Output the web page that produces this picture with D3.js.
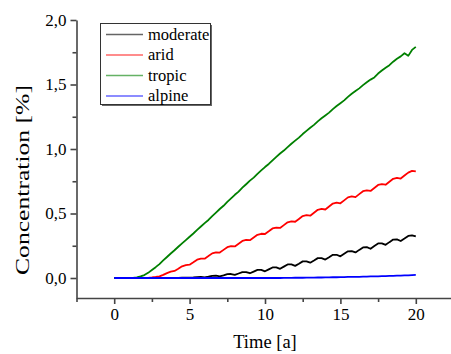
<!DOCTYPE html>
<html>
<head>
<meta charset="utf-8">
<script src="https://cdn.jsdelivr.net/npm/d3@7"></script>
<style>
  body { margin: 0; background: #fff; }
</style>
</head>
<body>
<svg id="chart" width="451" height="354"></svg>
<script>
let time = [0, 0.25, 0.5, 0.75, 1, 1.25, 1.5, 1.75, 2, 2.25, 2.5, 2.75, 3, 3.25, 3.5, 3.75,
  4, 4.25, 4.5, 4.75, 5, 5.25, 5.5, 5.75, 6, 6.25, 6.5, 6.75, 7, 7.25, 7.5, 7.75,
  8, 8.25, 8.5, 8.75, 9, 9.25, 9.5, 9.75, 10, 10.25, 10.5, 10.75, 11, 11.25, 11.5, 11.75,
  12, 12.25, 12.5, 12.75, 13, 13.25, 13.5, 13.75, 14, 14.25, 14.5, 14.75, 15, 15.25, 15.5, 15.75,
  16, 16.25, 16.5, 16.75, 17, 17.25, 17.5, 17.75, 18, 18.25, 18.5, 18.75, 19, 19.25, 19.5, 19.75, 20]

let moderate = [0, 0, 0, 0, 0, 0, 0, 0, 0, 0, 0, 0, 0, 0, 0, 0,
  0, 0.001, 0.002, 0.002, 0.002, 0.004, 0.007, 0.008, 0.005, 0.010, 0.017, 0.018, 0.013, 0.021, 0.030, 0.031,
  0.024, 0.035, 0.046, 0.046, 0.037, 0.050, 0.063, 0.063, 0.052, 0.067, 0.082, 0.082, 0.071, 0.088, 0.105, 0.105,
  0.094, 0.111, 0.129, 0.129, 0.119, 0.136, 0.154, 0.154, 0.143, 0.161, 0.180, 0.180, 0.168, 0.188, 0.207, 0.209,
  0.198, 0.218, 0.237, 0.239, 0.227, 0.248, 0.268, 0.269, 0.257, 0.278, 0.298, 0.299, 0.287, 0.306, 0.326, 0.331, 0.322]

let arid = [0, 0, 0, 0, 0, 0, 0, 0, 0, 0.001, 0.004, 0.008, 0.013, 0.024, 0.038, 0.049,
  0.055, 0.072, 0.091, 0.100, 0.103, 0.122, 0.142, 0.150, 0.150, 0.170, 0.191, 0.199, 0.197, 0.218, 0.239, 0.247,
  0.245, 0.266, 0.287, 0.295, 0.293, 0.314, 0.335, 0.343, 0.341, 0.362, 0.384, 0.391, 0.388, 0.410, 0.432, 0.439,
  0.436, 0.458, 0.480, 0.487, 0.483, 0.506, 0.529, 0.536, 0.531, 0.554, 0.577, 0.584, 0.579, 0.602, 0.625, 0.632,
  0.627, 0.650, 0.673, 0.680, 0.675, 0.698, 0.721, 0.728, 0.723, 0.746, 0.769, 0.776, 0.771, 0.794, 0.817, 0.830, 0.826]

let tropic = [0, 0, 0, 0, 0, 0.001, 0.005, 0.012, 0.023, 0.040, 0.062, 0.084, 0.108, 0.136, 0.163, 0.190,
  0.215, 0.242, 0.268, 0.294, 0.320, 0.345, 0.373, 0.399, 0.425, 0.450, 0.480, 0.507, 0.535, 0.560, 0.590, 0.617,
  0.645, 0.670, 0.700, 0.727, 0.755, 0.778, 0.807, 0.834, 0.860, 0.884, 0.912, 0.939, 0.965, 0.988, 1.015, 1.041,
  1.065, 1.088, 1.116, 1.141, 1.165, 1.187, 1.214, 1.238, 1.260, 1.282, 1.309, 1.333, 1.355, 1.377, 1.404, 1.428,
  1.450, 1.470, 1.495, 1.518, 1.538, 1.555, 1.585, 1.608, 1.630, 1.650, 1.677, 1.700, 1.718, 1.742, 1.722, 1.768, 1.792]

let alpine = [0, 0, 0, 0, 0, 0, 0, 0, 0, 0, 0, 0, 0, 0, 0, 0,
  0, 0, 0, 0, 0, 0, 0, 0, 0, 0, 0, 0, 0, 0, 0, 0,
  0, 0, 0, 0, 0, 0, 0, 0, 0, 0, 0, 0, 0, 0.001, 0.001, 0.001,
  0.002, 0.002, 0.002, 0.003, 0.003, 0.003, 0.004, 0.004, 0.005, 0.005, 0.006, 0.006, 0.007, 0.007, 0.008, 0.008,
  0.009, 0.009, 0.010, 0.011, 0.012, 0.012, 0.013, 0.014, 0.015, 0.016, 0.017, 0.018, 0.019, 0.020, 0.021, 0.023, 0.024]

let seriesNames = ['moderate', 'arid', 'tropic', 'alpine']
let seriesColors = ['#000000', '#ff0000', '#008000', '#0000ff']

let xMajor = [0, 5, 10, 15, 20]
let xMinor = [-2.5, 2.5, 7.5, 12.5, 17.5, 22.5]
let yMajor = [0, 0.5, 1.0, 1.5, 2.0]
let yMinor = [0.25, 0.75, 1.25, 1.75]

let serif = "'Liberation Serif', 'Times New Roman', serif"

let svg = d3.select('#chart')

let x = d3.scaleLinear().domain([-2.5, 22.5]).range([76.5, 453.5])
let y = d3.scaleLinear().domain([-0.155, 2.0]).range([298, 20])

let commaFmt = d => d3.format('.1f')(d).replace('.', ',')

// minor ticks
svg.append('g')
  .attr('transform', 'translate(0,298)')
  .call(d3.axisBottom(x).tickValues(xMinor).tickSize(4).tickFormat('').tickSizeOuter(0))
  .call(g => g.select('.domain').remove())
svg.append('g')
  .attr('transform', 'translate(76.5,0)')
  .call(d3.axisLeft(y).tickValues(yMinor).tickSize(4).tickFormat('').tickSizeOuter(0))
  .call(g => g.select('.domain').remove())

svg.append('g')
  .attr('transform', 'translate(0,298)')
  .call(d3.axisBottom(x).tickValues(xMajor).tickSize(6).tickPadding(4).tickSizeOuter(0))

svg.append('g')
  .attr('transform', 'translate(76.5,0)')
  .call(d3.axisLeft(y).tickValues(yMajor).tickFormat(commaFmt).tickSize(6).tickPadding(4).tickSizeOuter(0))

svg.selectAll('.tick text')
  .style('font-family', serif)
  .attr('font-size', 17)
  .attr('fill', '#000')
svg.selectAll('.domain, .tick line')
  .attr('stroke', '#444')
  .attr('stroke-width', 1.6)

// lines
let series = [moderate, arid, tropic, alpine]
let line = d3.line()
  .x((d, i) => x(time[i]))
  .y(d => y(d))

series.forEach((values, k) => {
  svg.append('path')
    .datum(values)
    .attr('fill', 'none')
    .attr('stroke', seriesColors[k])
    .attr('stroke-width', 1.8)
    .attr('stroke-linejoin', 'round')
    .attr('d', line)
})

// legend
let legend = svg.append('g')
legend.append('rect')
  .attr('x', 102).attr('y', 25).attr('width', 110).attr('height', 81)
  .attr('fill', '#666')
legend.append('rect')
  .attr('x', 100.5).attr('y', 23.5).attr('width', 110).attr('height', 81)
  .attr('fill', '#fff').attr('stroke', '#333').attr('stroke-width', 1)

seriesNames.forEach((name, k) => {
  let cy = 34.5 + k * 20.5
  legend.append('line')
    .attr('x1', 106).attr('x2', 143).attr('y1', cy).attr('y2', cy)
    .attr('stroke', seriesColors[k]).attr('stroke-width', 1.5).attr('opacity', 0.6)
  legend.append('text')
    .attr('x', 148).attr('y', cy + 5)
    .attr('font-size', 16.5)
    .style('font-family', serif)
    .text(name)
})

// axis titles
svg.append('text')
  .attr('x', x(10)).attr('y', 348)
  .attr('text-anchor', 'middle')
  .attr('font-size', 18.5)
  .style('font-family', serif)
  .text('Time [a]')

svg.append('text')
  .attr('transform', 'translate(29,180) rotate(-90)')
  .attr('text-anchor', 'middle')
  .attr('font-size', 18.5)
  .attr('textLength', 190)
  .attr('lengthAdjust', 'spacingAndGlyphs')
  .style('font-family', serif)
  .text('Concentration [%]')
</script>
</body>
</html>
